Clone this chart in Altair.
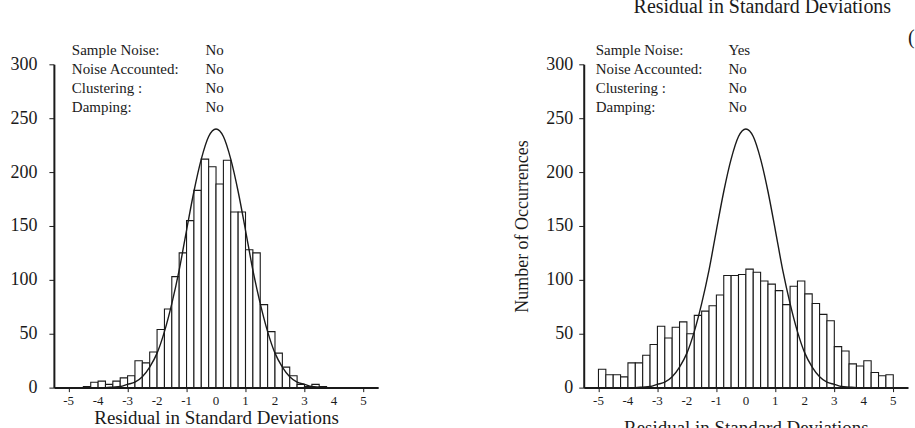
import altair as alt
import pandas as pd

FONT = "Liberation Serif"
INK = "#1a1a1a"

# ---------------- data ----------------
BIN_WIDTH = 0.25

# left panel: bins start at -4.5
left_first_bin = -4.5
left_counts = [1, 5, 6, 3, 6, 9, 11, 25, 23, 33,
               54, 73, 103, 125, 155, 183, 212, 205, 189, 211,
               163, 163, 128, 125, 77, 52, 32, 19, 11, 3,
               1, 3, 1]

# right panel: bins start at -5.0
right_first_bin = -5.0
right_counts = [17, 12, 12, 10, 23, 23, 30, 40, 57, 46,
                56, 61, 50, 67, 71, 76, 86, 104, 104, 105,
                110, 107, 99, 96, 90, 77, 94, 99, 87, 78,
                68, 62, 38, 34, 22, 20, 25, 14, 11, 12]

# reference curve
curve_x = [-4.0, -3.75, -3.5, -3.25, -3.0, -2.75, -2.5, -2.25, -2.0, -1.75,
           -1.5, -1.25, -1.0, -0.75, -0.5, -0.25, 0.0, 0.25, 0.5, 0.75,
           1.0, 1.25, 1.5, 1.75, 2.0, 2.25, 2.5, 2.75, 3.0, 3.25,
           3.5, 3.75, 4.0]
curve_y = [0, 0, 0.5, 1, 3, 5, 10, 19, 32, 52,
           78, 109, 146, 182, 212, 233, 240, 233, 212, 182,
           146, 109, 78, 52, 32, 19, 10, 5, 3, 1,
           0.5, 0, 0]

x_ticks = [-5, -4, -3, -2, -1, 0, 1, 2, 3, 4, 5]
x_tick_labels = ["-5", "-4", "-3", "-2", "-1", "0", "1", "2", "3", "4", "5"]
y_ticks = [0, 50, 100, 150, 200, 250, 300]

info_labels = ["Sample Noise:", "Noise Accounted:", "Clustering :", "Damping:"]
left_info_values = ["No", "No", "No", "No"]
right_info_values = ["Yes", "No", "No", "No"]

x_title = "Residual in Standard Deviations"
right_y_title = "Number of Occurrences"
corner_text = "("

PLOT_W = 325
PLOT_H = 324


def panel(first_bin, counts, info_values, y_title, label_pad, x_title_pad,
          info_x, value_x, extra=None):
    bins = pd.DataFrame({
        "start": [first_bin + i * BIN_WIDTH for i in range(len(counts))],
        "count": counts,
    })
    bins["end"] = bins["start"] + BIN_WIDTH
    bins["base"] = 0
    curve = pd.DataFrame({"x": curve_x, "y": curve_y})
    ticks = pd.DataFrame({"v": x_ticks, "lab": x_tick_labels})

    xs = alt.Scale(domain=[-5.5, 5.5], nice=False, zero=False)
    ys = alt.Scale(domain=[0, 300], nice=False)

    x_axis = alt.Axis(values=x_ticks, labels=False, title=x_title,
                      titleFont=FONT, titleFontSize=19, titleFontWeight="normal",
                      titleColor=INK, titlePadding=x_title_pad,
                      tickSize=4, tickColor=INK, tickWidth=1,
                      domainColor=INK, domainWidth=2, grid=False)
    y_axis = alt.Axis(values=y_ticks, title=y_title,
                      titleFont=FONT, titleFontSize=18, titleFontWeight="normal",
                      titleColor=INK, titlePadding=14,
                      labelFont=FONT, labelFontSize=18, labelColor=INK,
                      labelPadding=label_pad, labelOverlap=False,
                      tickSize=5, tickColor=INK, tickWidth=1,
                      domainColor=INK, domainWidth=2, grid=False)

    bars = alt.Chart(bins).mark_bar(fill="white", stroke=INK, strokeWidth=1.1).encode(
        x=alt.X("start:Q", scale=xs, axis=x_axis),
        x2="end:Q",
        y=alt.Y("count:Q", scale=ys, axis=y_axis),
        y2="base:Q",
    )
    line = alt.Chart(curve).mark_line(color=INK, strokeWidth=1.4,
                                      interpolate="monotone").encode(
        x="x:Q", y="y:Q")

    tick_labels = alt.Chart(ticks).mark_text(
        font=FONT, fontSize=13, color=INK, align="center", baseline="middle").encode(
        x="v:Q", y=alt.value(PLOT_H + 13), text="lab:N")

    labels = alt.Chart(pd.DataFrame({"t": ["\n".join(info_labels)]})).mark_text(
        font=FONT, fontSize=15, color=INK, align="left", baseline="top",
        lineBreak="\n", lineHeight=19).encode(
        text="t:N", x=alt.value(info_x), y=alt.value(-21))
    values = alt.Chart(pd.DataFrame({"t": ["\n".join(info_values)]})).mark_text(
        font=FONT, fontSize=15, color=INK, align="left", baseline="top",
        lineBreak="\n", lineHeight=19).encode(
        text="t:N", x=alt.value(value_x), y=alt.value(-21))

    layers = [bars, line, tick_labels, labels, values]
    if extra:
        layers += extra
    return alt.layer(*layers).properties(width=PLOT_W, height=PLOT_H)


top_cut = alt.Chart(pd.DataFrame({"t": [x_title]})).mark_text(
    font=FONT, fontSize=20, color=INK, align="center", baseline="alphabetic").encode(
    text="t:N", x=alt.value(179), y=alt.value(-51))
corner = alt.Chart(pd.DataFrame({"t": [corner_text]})).mark_text(
    font=FONT, fontSize=20, color=INK, align="left", baseline="middle").encode(
    text="t:N", x=alt.value(325), y=alt.value(-26))

left = panel(left_first_bin, left_counts, left_info_values, "", 12, 16, 18, 152)
right = panel(right_first_bin, right_counts, right_info_values, right_y_title, 6, 26,
              12, 145, extra=[top_cut, corner])

chart = alt.hconcat(left, right, spacing=206, bounds="flush").properties(
    padding={"left": 10, "top": -3, "right": 0, "bottom": -10}
).configure_view(stroke=None)

chart.save("out.html", embed_options={"renderer": "svg", "actions": False})
